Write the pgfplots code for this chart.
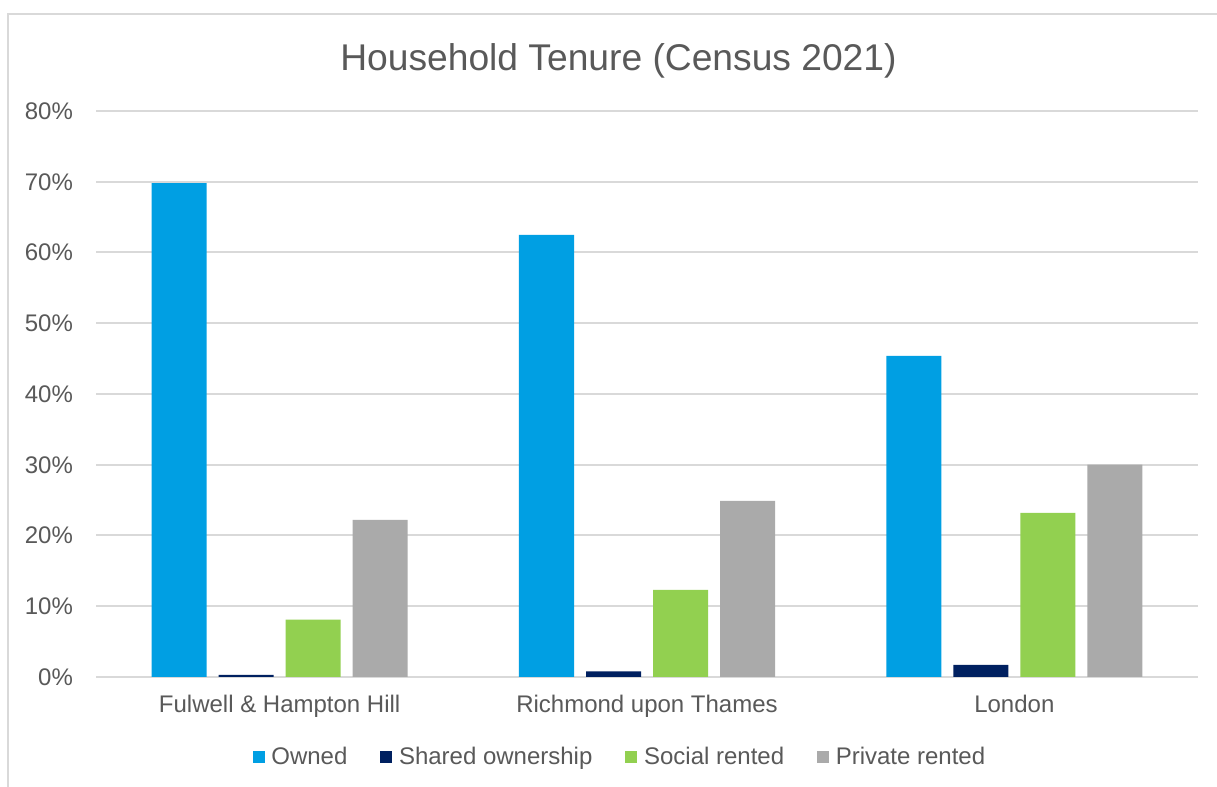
\documentclass[border=0pt]{standalone}
\usepackage{pgfplots}
\pgfplotsset{compat=1.18}
\usepackage{fontspec}
\setmainfont{Liberation Sans}
\definecolor{owned}{HTML}{009FE3}
\definecolor{shared}{HTML}{002060}
\definecolor{social}{HTML}{92D050}
\definecolor{private}{HTML}{AAAAAA}
\definecolor{gridgray}{HTML}{D9D9D9}
\definecolor{txtgray}{HTML}{595959}
\begin{document}
\begin{tikzpicture}[x=1pt,y=1pt]
\useasboundingbox (0,0) rectangle (608.5,393.5);
\fill[white] (0,0) rectangle (608.5,393.5);
\draw[gridgray, line width=1pt] (4,-5) -- (4,386.5) -- (615,386.5);
\node[text=txtgray, font=\fontsize{18.6}{22}\selectfont] at (309.25,363) {Household Tenure (Census 2021)};
\begin{axis}[
  at={(48pt,55pt)}, anchor=south west,
  scale only axis, width=551pt, height=283pt,
  ybar=6pt, bar width=27.5pt,
  xmin=-0.5, xmax=2.5, ymin=0, ymax=80,
  xtick={0,1,2},
  xticklabels={Fulwell \& Hampton Hill, Richmond upon Thames, London},
  ytick={0,10,...,80},
  yticklabel={\pgfmathprintnumber{\tick}\%},
  /pgf/number format/assume math mode=true,
  axis line style={draw=none},
  major tick length=0pt,
  ymajorgrids, grid style={gridgray, line width=1pt},
  tick label style={text=txtgray, font=\fontsize{12}{14}\selectfont},
  xticklabel style={yshift=-5.5pt},
  yticklabel style={xshift=-8pt},
  legend columns=4,
  legend style={draw=none, at={(0.4764,-0.1413)}, anchor=center,
    font=\fontsize{12}{14}\selectfont, text=txtgray,
    /tikz/every even column/.append style={column sep=14.5pt},
    column sep=1.3pt},
  legend image code/.code={\fill[#1,draw=none] (0pt,-3pt) rectangle (6pt,3pt);},
]
\addplot[fill=owned, draw=none] coordinates {(0,69.8) (1,62.5) (2,45.4)};
\addplot[fill=shared, draw=none] coordinates {(0,0.3) (1,0.8) (2,1.7)};
\addplot[fill=social, draw=none] coordinates {(0,8.1) (1,12.3) (2,23.2)};
\addplot[fill=private, draw=none] coordinates {(0,22.2) (1,24.9) (2,30.0)};
\legend{Owned, Shared ownership, Social rented, Private rented}
\end{axis}
\end{tikzpicture}
\end{document}
